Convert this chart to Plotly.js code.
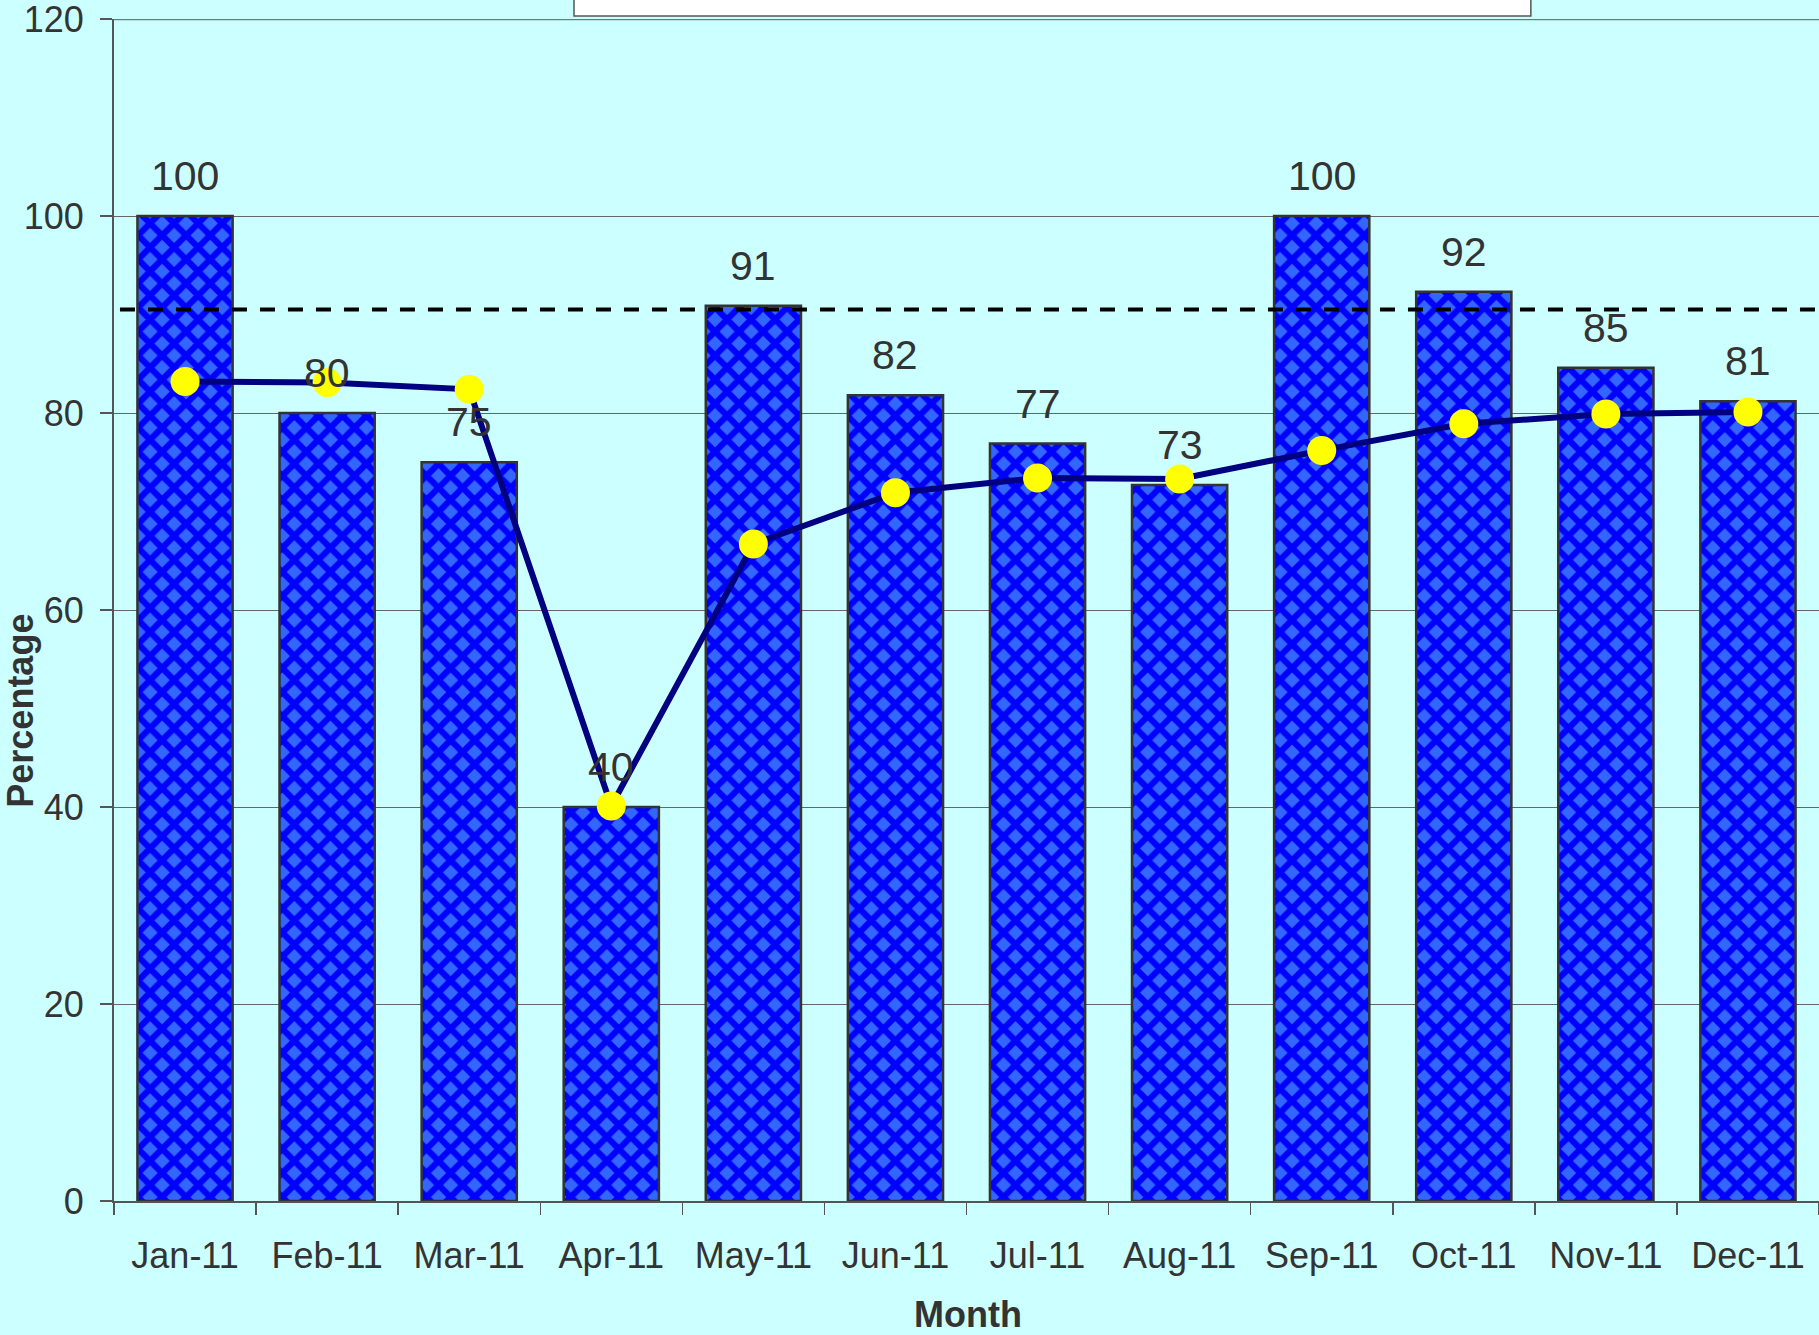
<!DOCTYPE html>
<html>
<head>
<meta charset="utf-8">
<script src="https://cdn.plot.ly/plotly-3.0.1.min.js"></script>
<style>html,body{margin:0;padding:0;background:#CCFFFF;}#chart{width:1819px;height:1335px;}</style>
</head>
<body>
<div id="chart"></div>
<script>
var months = ['Jan-11','Feb-11','Mar-11','Apr-11','May-11','Jun-11','Jul-11','Aug-11','Sep-11','Oct-11','Nov-11','Dec-11'];
var percentage = [100, 80, 75, 40, 90.9, 81.8, 76.9, 72.7, 100, 92.3, 84.6, 81.2];
var cumulative = [83.2, 83.1, 82.4, 40.1, 66.7, 71.9, 73.4, 73.3, 76.2, 78.9, 79.9, 80.1];
var target = 90.5;
var yTicks = [0, 20, 40, 60, 80, 100, 120];

var font = 'Liberation Sans, Arial, sans-serif';
var yMax = yTicks[yTicks.length - 1];

var bars = {
  type: 'bar',
  x: months,
  y: percentage,
  width: 0.67,
  marker: {
    color: '#3366FF',
    line: {color: '#333333', width: 2.5},
    pattern: {shape: 'x', bgcolor: '#3366FF', fgcolor: '#0000FF', size: 17, solidity: 0.6, fillmode: 'replace'}
  },
  hoverinfo: 'x+y',
  showlegend: false
};

var line = {
  type: 'scatter',
  mode: 'lines+markers',
  x: months,
  y: cumulative,
  line: {color: '#000080', width: 6},
  marker: {color: '#FFFF00', size: 29, line: {width: 0}},
  showlegend: false
};

var annotations = months.map(function(m, i) {
  return {
    x: m, y: percentage[i], xref: 'x', yref: 'y',
    text: String(Math.round(percentage[i])),
    showarrow: false, yanchor: 'middle', yshift: 40,
    font: {family: font, size: 41, color: '#333333'}
  };
});
annotations.push({
  text: '<b>Percentage</b>', xref: 'paper', yref: 'paper',
  x: -0.055, y: 0.415, xanchor: 'center', yanchor: 'middle',
  textangle: -90, showarrow: false,
  font: {family: font, size: 36, color: '#333333'}
});
annotations.push({
  text: '<b>Month</b>', xref: 'paper', yref: 'paper',
  x: 0.501, y: -0.096, xanchor: 'center', yanchor: 'middle',
  showarrow: false,
  font: {family: font, size: 36, color: '#333333'}
});

var layout = {
  width: 1819, height: 1335,
  margin: {l: 114, r: 0, t: 19, b: 134, pad: 0},
  paper_bgcolor: '#CCFFFF',
  plot_bgcolor: '#CCFFFF',
  xaxis: {
    type: 'category',
    tickson: 'boundaries',
    ticks: 'outside', ticklen: 12, tickwidth: 1.5, tickcolor: '#555555',
    showline: true, linecolor: '#555555', linewidth: 2,
    showgrid: false,
    tickfont: {family: font, size: 36, color: '#333333'},
    ticklabelstandoff: 22,
    range: [-0.5, 11.5]
  },
  yaxis: {
    range: [0, yMax],
    tickvals: yTicks,
    ticks: 'outside', ticklen: 12, tickwidth: 1.5, tickcolor: '#555555',
    showline: true, linecolor: '#555555', linewidth: 2,
    showgrid: true, gridcolor: '#666666', gridwidth: 1,
    zeroline: false,
    tickfont: {family: font, size: 36, color: '#333333'},
    ticklabelstandoff: 9,
    ticklabeloverflow: 'allow'
  },
  shapes: [
    {type: 'line', xref: 'paper', yref: 'y', x0: 0, x1: 1, y0: yMax, y1: yMax,
     line: {color: '#777777', width: 2.5}, layer: 'below'},
    {type: 'line', xref: 'paper', yref: 'y', x0: 0.0035, x1: 1, y0: target, y1: target,
     line: {color: '#000000', width: 4, dash: '15px,13px'}, layer: 'above'},
    {type: 'rect', xref: 'paper', yref: 'paper', x0: 0.2698, x1: 0.831, y0: 1.0025, y1: 1.03,
     fillcolor: '#FFFFFF', line: {color: '#555555', width: 1.5}, layer: 'above'}
  ],
  annotations: annotations
};

Plotly.newPlot('chart', [bars, line], layout, {displayModeBar: false, staticPlot: true});
</script>
</body>
</html>
